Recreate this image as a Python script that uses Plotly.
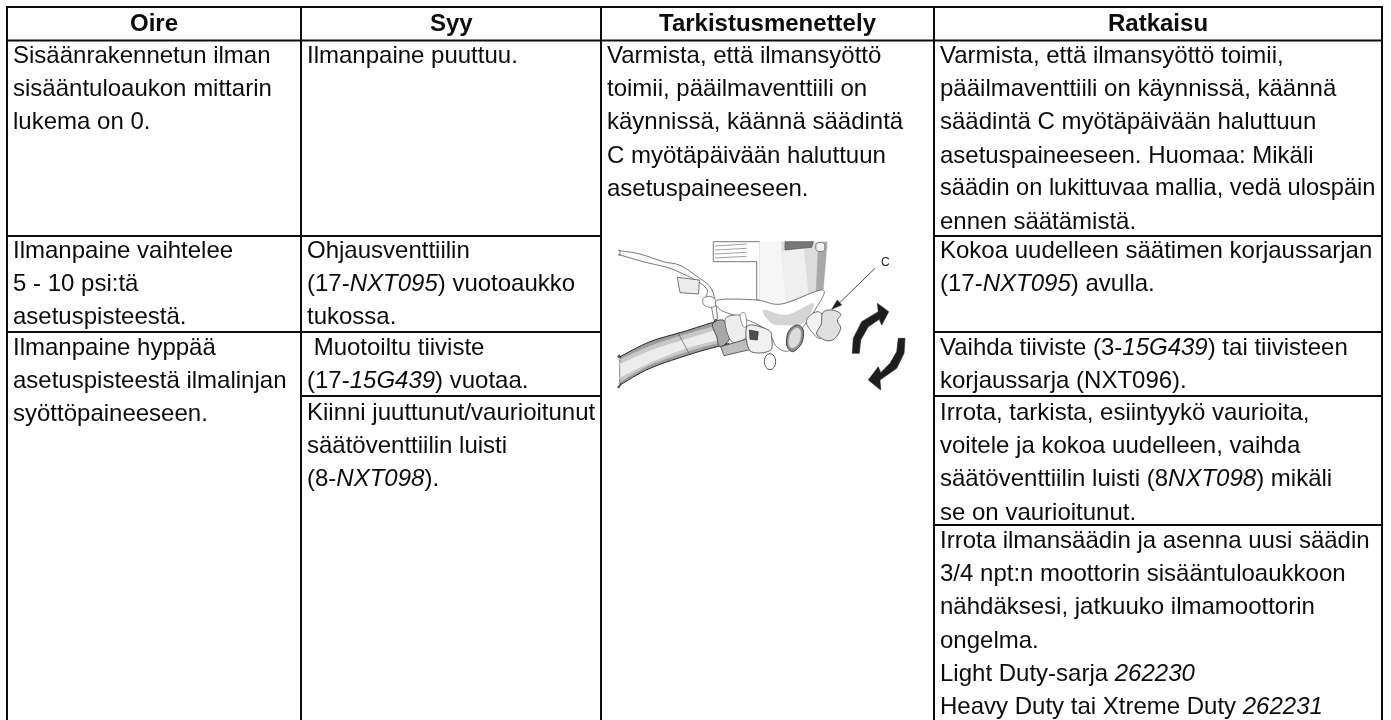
import plotly.graph_objects as go

FONT = "Liberation Sans"
TXT = "#0c0c0c"
SIZE = 24
COLUMN_EDGES = [7, 301, 601, 934, 1382]
TOP = 7
BOTTOM = 722
RULES = [(40.5, 0, 4), (236, 0, 2), (236, 3, 4), (332, 0, 2), (332, 3, 4), (396, 1, 2), (396, 3, 4), (525, 3, 4)]
HEADERS = ["Oire", "Syy", "Tarkistusmenettely", "Ratkaisu"]
CELLS = [
    (0, 55, ["Sisäänrakennetun ilman", "sisääntuloaukon mittarin", "lukema on 0."]),
    (0, 250, ["Ilmanpaine vaihtelee", "5 - 10 psi:tä", "asetuspisteestä."]),
    (0, 347, ["Ilmanpaine hyppää", "asetuspisteestä ilmalinjan", "syöttöpaineeseen."]),
    (1, 55, ["Ilmanpaine puuttuu."]),
    (1, 250, ["Ohjausventtiilin", "(17-<i>NXT095</i>) vuotoaukko", "tukossa."]),
    (1, 347, ["\u00a0Muotoiltu tiiviste", "(17-<i>15G439</i>) vuotaa."]),
    (1, 412, ["Kiinni juuttunut/vaurioitunut", "säätöventtiilin luisti", "(8-<i>NXT098</i>)."]),
    (2, 55, ["Varmista, että ilmansyöttö", "toimii, pääilmaventtiili on", "käynnissä, käännä säädintä", "C myötäpäivään haluttuun", "asetuspaineeseen."]),
    (3, 55, ["Varmista, että ilmansyöttö toimii,", "pääilmaventtiili on käynnissä, käännä", "säädintä C myötäpäivään haluttuun", "asetuspaineeseen. Huomaa: Mikäli", "säädin on lukittuvaa mallia, vedä ulospäin", "ennen säätämistä."]),
    (3, 250, ["Kokoa uudelleen säätimen korjaussarjan", "(17-<i>NXT095</i>) avulla."]),
    (3, 347, ["Vaihda tiiviste (3-<i>15G439</i>) tai tiivisteen", "korjaussarja (NXT096)."]),
    (3, 412, ["Irrota, tarkista, esiintyykö vaurioita,", "voitele ja kokoa uudelleen, vaihda", "säätöventtiilin luisti (8<i>NXT098</i>) mikäli", "se on vaurioitunut."]),
    (3, 540, ["Irrota ilmansäädin ja asenna uusi säädin", "3/4 npt:n moottorin sisääntuloaukkoon", "nähdäksesi, jatkuuko ilmamoottorin", "ongelma.", "Light Duty-sarja <i>262230</i>", "Heavy Duty tai Xtreme Duty <i>262231</i>"]),
]
NARROW_LINES = {"säädin on lukittuvaa mallia, vedä ulospäin": 23.6}
LINE_PITCH = 33.2
PAD = 4.5

# Illustration outlines, in the coordinates of a 3x crop of the picture.
# Each item: (kind, points, fill, edge, width); kind "s" = smooth closed, "p" = polygon, "l" = smooth open
ILLUSTRATION = [
    # strap and plug
    ("s", [(60, 182), (60, 182), (120, 192), (190, 215), (240, 226), (295, 262), (330, 290), (345, 330), (352, 388), (342, 388), (332, 345), (315, 330), (322, 300), (290, 272), (235, 245), (200, 232), (130, 215), (60, 195), (60, 195)], "#fafafa", "#555555", 0.8),
    ("p", [(232, 262), (298, 270), (296, 312), (240, 308)], "#ececec", "#555555", 0.8),
    ("s", [(310, 325), (335, 320), (352, 340), (335, 352), (312, 345)], "#ffffff", "#666666", 0.8),
    # upper housing
    ("p", [(340, 155), (340, 215), (470, 215), (470, 330), (480, 330), (480, 155)], "#ffffff", "#555555", 0.8),
    ("l", [(345, 168), (440, 162)], None, "#888888", 0.8),
    ("l", [(345, 180), (440, 175)], None, "#888888", 0.8),
    ("l", [(345, 192), (440, 187)], None, "#888888", 0.8),
    ("l", [(345, 204), (440, 199)], None, "#888888", 0.8),
    ("p", [(478, 155), (545, 155), (545, 185), (560, 345), (478, 330)], "#f6f6f6", "#f6f6f6", 0.3),
    ("p", [(545, 155), (680, 155), (670, 298), (560, 338), (545, 185)], "#dcdcdc", "#dcdcdc", 0.3),
    ("p", [(545, 185), (610, 160), (625, 310), (560, 335)], "#efefef", "#efefef", 0.3),
    ("p", [(655, 160), (682, 155), (670, 298), (648, 305)], "#a8a8a8", "#a8a8a8", 0.3),
    ("p", [(555, 155), (640, 155), (635, 172), (555, 180)], "#777777", "#444444", 0.6),
    ("s", [(650, 160), (672, 160), (672, 182), (650, 182)], "#f0f0f0", "#555555", 0.7),
    # lower housing
    ("s", [(355, 330), (470, 330), (545, 342), (668, 300), (645, 360), (610, 410), (570, 480), (530, 470), (500, 420), (430, 385), (362, 360)], "#ffffff", "#555555", 0.8),
    ("s", [(490, 360), (560, 375), (640, 340), (610, 400), (560, 405), (515, 400)], "#d4d4d4", "#d4d4d4", 0.3),
    # hose
    ("s", [(60, 500), (60, 500), (150, 455), (250, 425), (345, 395), (345, 395), (380, 462), (380, 462), (280, 490), (150, 535), (60, 585), (60, 585)], "#9c9c9c", "#222222", 1.0),
    ("s", [(61, 508), (61, 508), (150, 468), (250, 435), (345, 408), (345, 408), (368, 455), (368, 455), (270, 482), (150, 525), (61, 575), (61, 575)], "#c8c8c8", "#c8c8c8", 0.3),
    ("s", [(61, 522), (61, 522), (150, 482), (250, 450), (350, 420), (350, 420), (362, 448), (362, 448), (262, 474), (150, 518), (61, 562), (61, 562)], "#ececec", "#ececec", 0.3),
    ("l", [(235, 430), (268, 492)], None, "#555555", 0.7),
    # clamp and fitting
    ("s", [(338, 402), (372, 392), (388, 445), (360, 470), (350, 440)], "#a8a8a8", "#333333", 0.8),
    ("s", [(375, 390), (405, 375), (432, 385), (440, 440), (395, 455)], "#ededed", "#555555", 0.8),
    ("p", [(362, 470), (448, 445), (454, 478), (372, 497)], "#bdbdbd", "#444444", 0.8),
    ("s", [(420, 375), (435, 370), (440, 405), (430, 410)], "#ffffff", "#666666", 0.7),
    ("s", [(442, 408), (505, 420), (515, 445), (510, 482), (450, 482)], "#f0f0f0", "#444444", 0.8),
    ("p", [(448, 420), (475, 425), (472, 450), (450, 448)], "#4f4f4f", "#222222", 0.6),
    # port
    ("s", [(565, 425), (590, 405), (610, 420), (605, 460), (578, 485), (560, 465)], "#8e8e8e", "#333333", 0.9),
    ("s", [(571, 430), (590, 413), (603, 425), (598, 458), (578, 475), (566, 462)], "#dcdcdc", "#aaaaaa", 0.5),
    # knob
    ("s", [(622, 385), (655, 365), (678, 395), (660, 445), (625, 412)], "#f2f2f2", "#555555", 0.8),
    ("s", [(668, 368), (695, 360), (722, 372), (712, 392), (722, 415), (705, 445), (680, 452), (650, 432), (664, 402)], "#e0e0e0", "#444444", 0.8),
    # rotation arrows
    ("p", [(757, 490), (760, 445), (785, 395), (835, 365), (832, 340), (866, 365), (845, 405), (838, 388), (805, 410), (782, 450), (778, 490)], "#1e1e1e", "#1e1e1e", 0.6),
    ("p", [(915, 445), (912, 490), (890, 535), (840, 570), (842, 600), (805, 570), (835, 530), (842, 548), (870, 520), (890, 485), (895, 445)], "#1e1e1e", "#1e1e1e", 0.6),
]
RING = (510, 515, 17, 24)
LEADER = [(825, 235), (712, 345)]
LEADER_HEAD = [(695, 358), (712, 330), (725, 345)]

def to_page(points):
    return [(600 + px / 3, 190 + py / 3) for px, py in points]

def poly(points):
    pts = to_page(points)
    return "M " + " L ".join(f"{x:.1f},{y:.1f}" for x, y in pts) + " Z"

def smooth(points, closed=True):
    pts = to_page(points)
    n = len(pts)
    if not closed and n < 3:
        return f"M {pts[0][0]:.1f},{pts[0][1]:.1f} L {pts[1][0]:.1f},{pts[1][1]:.1f}"
    s = f"M {pts[0][0]:.1f},{pts[0][1]:.1f}"
    for i in range(n if closed else n - 1):
        p0, p1, p2, p3 = pts[(i - 1) % n], pts[i], pts[(i + 1) % n], pts[(i + 2) % n]
        c1 = (p1[0] + (p2[0] - p0[0]) / 6, p1[1] + (p2[1] - p0[1]) / 6)
        c2 = (p2[0] - (p3[0] - p1[0]) / 6, p2[1] - (p3[1] - p1[1]) / 6)
        s += f" C {c1[0]:.1f},{c1[1]:.1f} {c2[0]:.1f},{c2[1]:.1f} {p2[0]:.1f},{p2[1]:.1f}"
    return s + (" Z" if closed else "")

fig = go.Figure()
fig.add_trace(go.Scatter(x=[0, 1391], y=[0, 720], mode="markers", marker=dict(opacity=0), hoverinfo="skip", showlegend=False))

shapes = []
line = dict(color="#0c0c0c", width=2)
shapes.append(dict(type="line", x0=COLUMN_EDGES[0] - 1, x1=COLUMN_EDGES[-1] + 1, y0=TOP, y1=TOP, line=line))
for x in COLUMN_EDGES:
    shapes.append(dict(type="line", x0=x, x1=x, y0=TOP, y1=BOTTOM, line=line))
for y, a, b in RULES:
    shapes.append(dict(type="line", x0=COLUMN_EDGES[a], x1=COLUMN_EDGES[b], y0=y, y1=y, line=line))
for kind, pts, fill, edge, w in ILLUSTRATION:
    d = poly(pts) if kind == "p" else smooth(pts, kind == "s")
    shape = dict(type="path", path=d, line=dict(color=edge, width=w))
    if fill:
        shape["fillcolor"] = fill
    shapes.append(shape)
(rx0, ry0), (rx1, ry1) = to_page([(RING[0] - RING[2], RING[1] - RING[3]), (RING[0] + RING[2], RING[1] + RING[3])])
shapes.append(dict(type="circle", x0=rx0, x1=rx1, y0=ry0, y1=ry1, fillcolor="#ffffff", line=dict(color="#555555", width=1)))
lp = to_page(LEADER)
shapes.append(dict(type="line", x0=lp[0][0], y0=lp[0][1], x1=lp[1][0], y1=lp[1][1], line=dict(color="#333333", width=0.9)))
shapes.append(dict(type="path", path=poly(LEADER_HEAD), fillcolor="#222222", line=dict(color="#222222", width=0.5)))

ann = []
for i, h in enumerate(HEADERS):
    ann.append(dict(x=(COLUMN_EDGES[i] + COLUMN_EDGES[i + 1]) / 2, y=22, text=f"<b>{h}</b>", showarrow=False,
                    xanchor="center", yanchor="middle", font=dict(family=FONT, size=SIZE, color=TXT)))
for col, y0, lines in CELLS:
    for k, t in enumerate(lines):
        ann.append(dict(x=COLUMN_EDGES[col] + PAD, y=y0 + k * LINE_PITCH - 0.5, text=t, showarrow=False,
                        xanchor="left", yanchor="middle", align="left", borderpad=0,
                        font=dict(family=FONT, size=NARROW_LINES.get(t, SIZE), color=TXT)))
cx, cy = to_page([(855, 215)])[0]
ann.append(dict(x=cx, y=cy, text="C", showarrow=False, font=dict(family=FONT, size=12, color="#222222")))

fig.update_layout(
    width=1391, height=720, margin=dict(l=0, r=0, t=0, b=0),
    paper_bgcolor="white", plot_bgcolor="white", showlegend=False,
    xaxis=dict(range=[0, 1391], visible=False, fixedrange=True),
    yaxis=dict(range=[720, 0], visible=False, fixedrange=True),
    shapes=shapes, annotations=ann,
)
fig.write_html("out.html", config=dict(displayModeBar=False), default_width="1391px", default_height="720px",
               post_script="document.body.style.margin='0';document.documentElement.style.overflow='hidden';document.querySelectorAll('.main-svg').forEach(function(s){s.style.filter='blur(0.35px)';});")
